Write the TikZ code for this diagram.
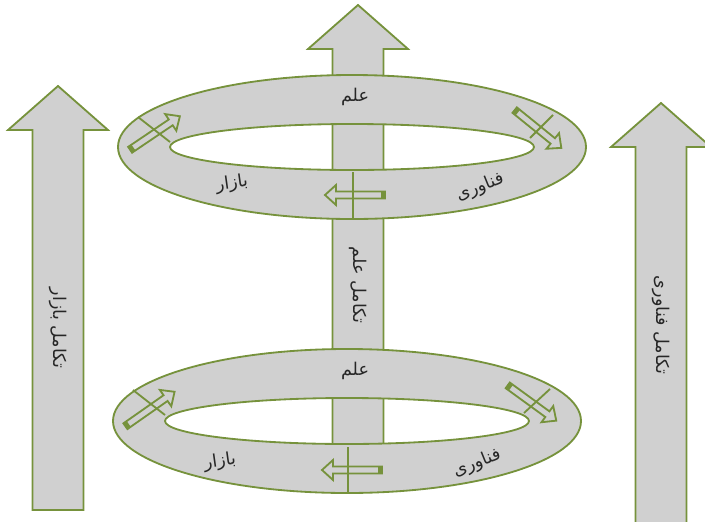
\documentclass[tikz,border=0pt]{standalone}
\usepackage{fontspec}
\usetikzlibrary{arrows.meta}
\newfontfamily\arabicfont[Script=Arabic]{DejaVu Sans}
\TeXXeTstate=1
\definecolor{loopGreen}{HTML}{76923C}
\definecolor{loopGray}{HTML}{D0D0D0}
\tikzset{
  block/.style={draw=loopGreen,fill=loopGray,line width=1.3pt},
  ring/.style={draw=loopGreen,fill=loopGray,line width=1.3pt,even odd rule},
  tick/.style={draw=loopGreen,line width=1.3pt},
  hollow/.style={draw=loopGreen,line width=1.3pt,line join=miter},
  lbl/.style={font=\arabicfont\fontsize{12.5}{14}\selectfont,text=black!85,inner sep=1pt},
  pics/ringarrow/.style={code={
    \draw[hollow] (-30,-3.5) -- (19,-3.5) -- (19,-10) -- (30,0) -- (19,10) -- (19,3.5) -- (-30,3.5) -- cycle;
    \fill[loopGreen] (-30,-3.5) rectangle (-26,3.5);
  }}
}

\begin{document}
\begin{tikzpicture}[x=0.025cm,y=-0.025cm]
  \useasboundingbox (0,0) rectangle (705,521);
  % big arrows: left, right, centre shaft
  \foreach \cx/\ty/\by in {58/86/510,661/103/524,358/5/470}{
    \draw[block] (\cx-25.5,\by) -- (\cx-25.5,\ty+44) -- (\cx-50,\ty+44) -- (\cx,\ty)
      -- (\cx+50,\ty+44) -- (\cx+25.5,\ty+44) -- (\cx+25.5,\by) -- cycle;
  }
  \node[lbl,rotate=-90] (evoMarket) at (58,328) {\beginR تکامل بازار\endR};
  \node[lbl,rotate=-90] (evoTech) at (661,325) {\beginR تکامل فناوری\endR};
  \node[lbl,rotate=-90] (evoScience) at (358,285) {\beginR تکامل علم\endR};

  % the two rings
  \foreach \cx/\cy in {352/147,347/421}{
    \path[ring] (\cx,\cy) ellipse [x radius=234,y radius=72]
                (\cx,\cy) ellipse [x radius=182,y radius=23];
  }

  % upper ring
  \draw[tick] (138,117) -- (170,142);
  \draw[tick] (553,115) -- (530,138);
  \draw[tick] (353,172) -- (353,220);
  \pic[rotate=34] at (155,133) {ringarrow};
  \pic[rotate=-39] at (538,129) {ringarrow};
  \pic[rotate=180] at (355,195) {ringarrow};
  \node[lbl] (scienceUp) at (355,97) {\beginR علم\endR};
  \node[lbl,rotate=8] (marketUp) at (232,184) {\beginR بازار\endR};
  \node[lbl,rotate=22] (techUp) at (480,187) {\beginR فناوری\endR};

  % lower ring
  \draw[tick] (133,390) -- (165,415);
  \draw[tick] (550,389) -- (524,413);
  \draw[tick] (348,447) -- (348,494);
  \pic[rotate=35] at (150,409) {ringarrow};
  \pic[rotate=-36] at (532,403) {ringarrow};
  \pic[rotate=180] at (352,470) {ringarrow};
  \node[lbl] (scienceLow) at (355,371) {\beginR علم\endR};
  \node[lbl,rotate=8] (marketLow) at (220,462) {\beginR بازار\endR};
  \node[lbl,rotate=22] (techLow) at (477,463) {\beginR فناوری\endR};
\end{tikzpicture}
\end{document}
